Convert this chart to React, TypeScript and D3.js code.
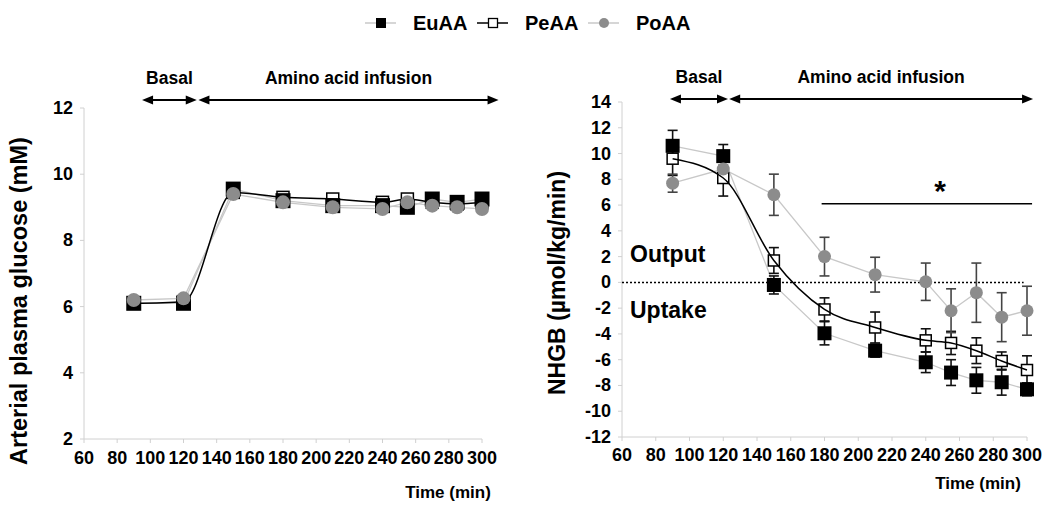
import React from "react";
import * as d3 from "d3";

const times = [90, 120, 150, 180, 210, 240, 255, 270, 285, 300];
const xTicks = [60, 80, 100, 120, 140, 160, 180, 200, 220, 240, 260, 280, 300];
const glucoseTicks = [2, 4, 6, 8, 10, 12];
const nhgbTicks = [-12, -10, -8, -6, -4, -2, 0, 2, 4, 6, 8, 10, 12, 14];

// Left panel: arterial plasma glucose (mM)
const glucEuAA = [6.1, 6.1, 9.55, 9.2, 9.05, 9.05, 9.0, 9.25, 9.15, 9.25];
const glucPeAA = [6.1, 6.15, 9.45, 9.3, 9.25, 9.15, 9.25, 9.15, 9.1, 9.15];
const glucPoAA = [6.2, 6.25, 9.4, 9.15, 9.0, 8.95, 9.15, 9.05, 9.0, 8.95];

// Right panel: NHGB (µmol/kg/min) with SE
const nhgbEuAA = [10.6, 9.8, -0.2, -3.95, -5.3, -6.2, -7.0, -7.6, -7.75, -8.3];
const seEuAA = [1.2, 0.9, 0.7, 0.9, 0.5, 0.8, 1.0, 1.0, 1.0, 0.5];
const nhgbPeAA = [9.6, 8.1, 1.7, -2.1, -3.5, -4.5, -4.7, -5.3, -6.1, -6.8];
const sePeAA = [1.3, 1.4, 1.0, 0.9, 1.2, 0.9, 0.9, 1.0, 0.7, 1.1];
const nhgbPoAA = [7.7, 8.8, 6.8, 2.0, 0.6, 0.05, -2.2, -0.8, -2.7, -2.2];
const sePoAA = [0.7, 0.3, 1.6, 1.5, 1.35, 1.45, 1.7, 2.3, 1.9, 1.9];

const FONT = "'Liberation Sans', Arial, sans-serif";
const AXIS_GRAY = "#d0d0d0";
const LINE_GRAY = "#c8c8c8";
const CIRCLE_GRAY = "#8c8c8c";

type Scale = d3.ScaleLinear<number, number>;

function Markers({ kind, xs, ys, x, y, size }: { kind: string; xs: number[]; ys: number[]; x: Scale; y: Scale; size: number }) {
  return (
    <g>
      {xs.map((t, i) => {
        const cx = x(t);
        const cy = y(ys[i]);
        if (kind === "EuAA")
          return <rect key={i} x={cx - size / 2} y={cy - size / 2} width={size} height={size} fill="#000" />;
        if (kind === "PeAA")
          return (
            <rect key={i} x={cx - (size - 2) / 2} y={cy - (size - 2) / 2} width={size - 2} height={size - 2} fill="#fff" stroke="#000" strokeWidth={1.5} />
          );
        return <circle key={i} cx={cx} cy={cy} r={size / 2} fill={CIRCLE_GRAY} />;
      })}
    </g>
  );
}

function ErrorBars({ xs, ys, se, x, y, color }: { xs: number[]; ys: number[]; se: number[]; x: Scale; y: Scale; color: string }) {
  return (
    <g stroke={color} strokeWidth={1.6}>
      {xs.map((t, i) => {
        const cx = x(t);
        const y1 = y(ys[i] + se[i]);
        const y2 = y(ys[i] - se[i]);
        return (
          <g key={i}>
            <line x1={cx} x2={cx} y1={y1} y2={y2} />
            <line x1={cx - 5} x2={cx + 5} y1={y1} y2={y1} />
            <line x1={cx - 5} x2={cx + 5} y1={y2} y2={y2} />
          </g>
        );
      })}
    </g>
  );
}

function Axes({ x, y, yTicks, xLabelY }: { x: Scale; y: Scale; yTicks: number[]; xLabelY: number }) {
  const [x0, x1] = x.range();
  const [y0, y1] = y.range();
  return (
    <g fontFamily={FONT} fontWeight="bold" fontSize={18} fill="#000">
      <line x1={x0} x2={x1} y1={y0} y2={y0} stroke={AXIS_GRAY} strokeWidth={1} />
      <line x1={x0} x2={x0} y1={y0} y2={y1} stroke={AXIS_GRAY} strokeWidth={1} />
      {xTicks.map((t) => (
        <g key={t}>
          <line x1={x(t)} x2={x(t)} y1={y0} y2={y0 + 4} stroke={AXIS_GRAY} />
          <text x={x(t)} y={y0 + xLabelY} textAnchor="middle" dominantBaseline="central">
            {t}
          </text>
        </g>
      ))}
      {yTicks.map((t) => (
        <g key={t}>
          <line x1={x0 - 4} x2={x0} y1={y(t)} y2={y(t)} stroke={AXIS_GRAY} />
          <text x={x0 - 11} y={y(t)} textAnchor="end" dominantBaseline="central">
            {t}
          </text>
        </g>
      ))}
    </g>
  );
}

function PhaseArrows({ x, yPos, basal, amino, textY }: { x: Scale; yPos: number; basal: number[]; amino: number[]; textY: number }) {
  const head = (px: number, dir: number) => (
    <path d={`M${px},${yPos} L${px - dir * 11},${yPos - 4.5} L${px - dir * 11},${yPos + 4.5} Z`} fill="#000" />
  );
  return (
    <g>
      {[basal, amino].map((seg, i) => (
        <g key={i}>
          <line x1={x(seg[0]) + 4} x2={x(seg[1]) - 4} y1={yPos} y2={yPos} stroke="#000" strokeWidth={2} />
          {head(x(seg[0]), -1)}
          {head(x(seg[1]), 1)}
        </g>
      ))}
      <text x={(x(basal[0]) + x(basal[1])) / 2} y={textY} textAnchor="middle" dominantBaseline="central" fontFamily={FONT} fontWeight="bold" fontSize={17.5}>
        Basal
      </text>
      <text x={(x(amino[0]) + x(amino[1])) / 2} y={textY} textAnchor="middle" dominantBaseline="central" fontFamily={FONT} fontWeight="bold" fontSize={17.5}>
        Amino acid infusion
      </text>
    </g>
  );
}

export default function App() {
  const xL = d3.scaleLinear().domain([60, 300]).range([84, 482]);
  const yL = d3.scaleLinear().domain([2, 12]).range([439, 108]);
  const xR = d3.scaleLinear().domain([60, 300]).range([622, 1027]);
  const yR = d3.scaleLinear().domain([-12, 14]).range([437, 102]);

  const lineFor = (x: Scale, y: Scale, smooth: boolean) =>
    d3
      .line<number>()
      .x((_, i) => x(times[i]))
      .y((d) => y(d))
      .curve(smooth ? d3.curveMonotoneX : d3.curveLinear);

  const legendItems = [
    { name: "EuAA", lx: 365, tx: 413, line: LINE_GRAY },
    { name: "PeAA", lx: 477, tx: 525, line: "#000" },
    { name: "PoAA", lx: 588, tx: 636, line: LINE_GRAY },
  ];

  return (
    <svg width={1050} height={507} style={{ position: "absolute", left: 0, top: 0, background: "#fff" }}>
      {/* Legend */}
      <g fontFamily={FONT} fontWeight="bold" fontSize={20}>
        {legendItems.map((it) => (
          <g key={it.name}>
            <line x1={it.lx} x2={it.lx + 31} y1={23} y2={23} stroke={it.line} strokeWidth={1.5} />
            {it.name === "EuAA" && <rect x={it.lx + 11} y={18} width={10} height={10} fill="#000" />}
            {it.name === "PeAA" && <rect x={it.lx + 11.5} y={18.5} width={9} height={9} fill="#fff" stroke="#000" strokeWidth={1.3} />}
            {it.name === "PoAA" && <circle cx={it.lx + 16} cy={23} r={5} fill={CIRCLE_GRAY} />}
            <text x={it.tx} y={23} dominantBaseline="central">
              {it.name}
            </text>
          </g>
        ))}
      </g>

      {/* Left panel */}
      <Axes x={xL} y={yL} yTicks={glucoseTicks} xLabelY={19} />
      <PhaseArrows x={xL} yPos={100} basal={[95, 128]} amino={[129, 310]} textY={78} />
      <text transform="translate(27,301) rotate(-90)" textAnchor="middle" fontFamily={FONT} fontWeight="bold" fontSize={23.5}>
        Arterial plasma glucose (mM)
      </text>
      <text x={448} y={492} textAnchor="middle" dominantBaseline="central" fontFamily={FONT} fontWeight="bold" fontSize={17}>
        Time (min)
      </text>
      <path d={lineFor(xL, yL, false)(glucEuAA) || ""} fill="none" stroke={LINE_GRAY} strokeWidth={1.3} />
      <path d={lineFor(xL, yL, false)(glucPoAA) || ""} fill="none" stroke={LINE_GRAY} strokeWidth={1.3} />
      <Markers kind="PeAA" xs={times} ys={glucPeAA} x={xL} y={yL} size={14} />
      <Markers kind="EuAA" xs={times} ys={glucEuAA} x={xL} y={yL} size={15} />
      <path d={lineFor(xL, yL, true)(glucPeAA) || ""} fill="none" stroke="#000" strokeWidth={1.5} />
      <Markers kind="PoAA" xs={times} ys={glucPoAA} x={xL} y={yL} size={14} />

      {/* Right panel */}
      <Axes x={xR} y={yR} yTicks={nhgbTicks} xLabelY={18} />
      <PhaseArrows x={xR} yPos={99} basal={[88.4, 122.8]} amino={[123.5, 303.6]} textY={77} />
      <text transform="translate(565,283) rotate(-90)" textAnchor="middle" fontFamily={FONT} fontWeight="bold" fontSize={23}>
        NHGB (µmol/kg/min)
      </text>
      <text x={978} y={483} textAnchor="middle" dominantBaseline="central" fontFamily={FONT} fontWeight="bold" fontSize={17}>
        Time (min)
      </text>
      <line x1={xR(60)} x2={xR(298)} y1={yR(0)} y2={yR(0)} stroke="#000" strokeWidth={1.5} strokeDasharray="2,2" />
      <text x={630} y={254} dominantBaseline="central" fontFamily={FONT} fontWeight="bold" fontSize={23}>
        Output
      </text>
      <text x={630} y={310} dominantBaseline="central" fontFamily={FONT} fontWeight="bold" fontSize={23}>
        Uptake
      </text>
      <line x1={xR(178.3)} x2={xR(303)} y1={yR(6.1)} y2={yR(6.1)} stroke="#000" strokeWidth={1.5} />
      <text x={xR(248.5)} y={yR(6.1) - 3} textAnchor="middle" fontFamily={FONT} fontWeight="bold" fontSize={30}>
        *
      </text>

      <path d={lineFor(xR, yR, false)(nhgbEuAA) || ""} fill="none" stroke={LINE_GRAY} strokeWidth={1.3} />
      <path d={lineFor(xR, yR, false)(nhgbPoAA) || ""} fill="none" stroke={LINE_GRAY} strokeWidth={1.3} />
      <ErrorBars xs={times} ys={nhgbPeAA} se={sePeAA} x={xR} y={yR} color="#111" />
      <ErrorBars xs={times} ys={nhgbEuAA} se={seEuAA} x={xR} y={yR} color="#111" />
      <ErrorBars xs={times} ys={nhgbPoAA} se={sePoAA} x={xR} y={yR} color="#444" />
      <Markers kind="PeAA" xs={times} ys={nhgbPeAA} x={xR} y={yR} size={13} />
      <Markers kind="EuAA" xs={times} ys={nhgbEuAA} x={xR} y={yR} size={14} />
      <path d={lineFor(xR, yR, true)(nhgbPeAA) || ""} fill="none" stroke="#000" strokeWidth={1.5} />
      <Markers kind="PoAA" xs={times} ys={nhgbPoAA} x={xR} y={yR} size={13} />
    </svg>
  );
}
